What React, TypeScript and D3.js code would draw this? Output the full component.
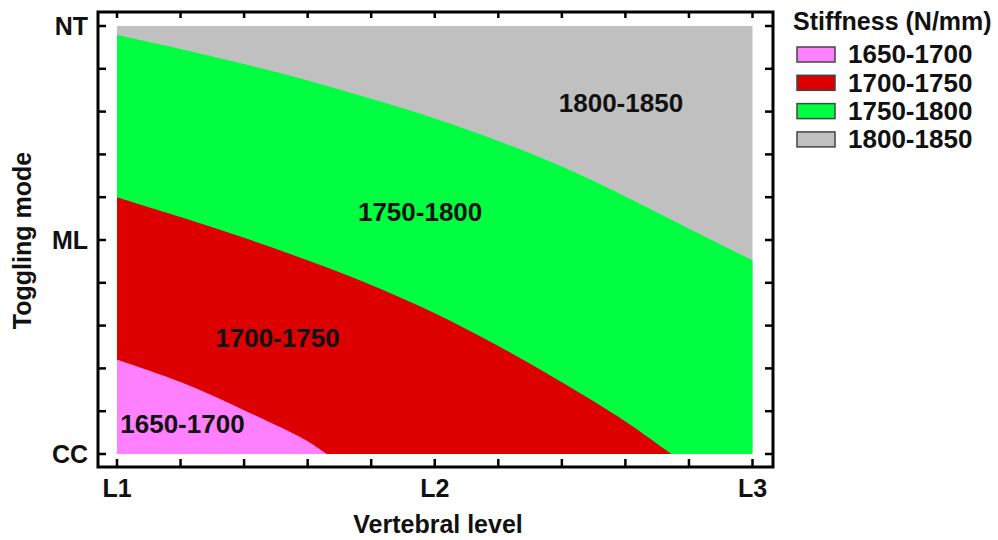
import React from "react";
import * as d3 from "d3";

// ---- data ----
const xCategories = ["L1", "L2", "L3"]; // vertebral level, positions 0,1,2
const yCategories = ["CC", "ML", "NT"]; // toggling mode, positions 0,1,2

// contour boundaries (x: level position, y: mode position)
const boundaryGrayGreen = [
  [0, 1.958], [0.2, 1.893], [0.4, 1.822], [0.6, 1.745], [0.8, 1.66], [1.0, 1.568],
  [1.2, 1.463], [1.4, 1.343], [1.6, 1.203], [1.8, 1.053], [2.0, 0.905],
];
const boundaryGreenRed = [
  [0, 1.2], [0.2, 1.107], [0.4, 1.01], [0.6, 0.905], [0.8, 0.79], [1.0, 0.658],
  [1.2, 0.505], [1.4, 0.335], [1.6, 0.152], [1.745, 0],
];
const boundaryRedPink = [
  [0, 0.44], [0.2, 0.336], [0.4, 0.205], [0.6, 0.06], [0.66, 0],
];

const legendLabels = ["1650-1700", "1700-1750", "1750-1800", "1800-1850"];
const legendColors = ["#ff80ff", "#dc0000", "#00ff40", "#c0c0c0"];

const regionLabels = [
  { label: "1650-1700", x: 0.206, y: 0.14 },
  { label: "1700-1750", x: 0.505, y: 0.542 },
  { label: "1750-1800", x: 0.954, y: 1.131 },
  { label: "1800-1850", x: 1.586, y: 1.643 },
];

const tickValues = d3.range(0, 2.0001, 0.2);

// ---- layout ----
const W = 998, H = 540;
const frame = { left: 98, right: 773, top: 12, bottom: 467 };
const FONT = "'Liberation Sans', Arial, sans-serif";

export default function App() {
  const x = d3.scaleLinear().domain([0, 2]).range([117, 752.5]);
  const y = d3.scaleLinear().domain([0, 2]).range([454, 26]);

  const area = d3
    .area<number[]>()
    .x((d) => x(d[0]))
    .y0(y(0))
    .y1((d) => y(d[1]))
    .curve(d3.curveCatmullRom.alpha(0.5));

  const tickLen = 8;

  return (
    <svg width={W} height={H} style={{ position: "absolute", left: 0, top: 0, background: "#fff" }}>
      {/* regions */}
      <rect x={x(0)} y={y(2)} width={x(2) - x(0)} height={y(0) - y(2)} fill={legendColors[3]} />
      <path d={area(boundaryGrayGreen) || ""} fill={legendColors[2]} />
      <path d={area(boundaryGreenRed) || ""} fill={legendColors[1]} />
      <path d={area(boundaryRedPink) || ""} fill={legendColors[0]} />

      {/* region labels */}
      {regionLabels.map((r) => (
        <text
          key={r.label}
          x={x(r.x)}
          y={y(r.y)}
          dy="0.36em"
          textAnchor="middle"
          fontFamily={FONT}
          fontWeight="bold"
          fontSize={26}
          fill="#111"
        >
          {r.label}
        </text>
      ))}

      {/* frame */}
      <rect
        x={frame.left}
        y={frame.top}
        width={frame.right - frame.left}
        height={frame.bottom - frame.top}
        fill="none"
        stroke="#000"
        strokeWidth={3}
      />

      {/* ticks */}
      {tickValues.map((t, i) => (
        <g key={"t" + i} stroke="#000" strokeWidth={2.5}>
          <line x1={x(t)} x2={x(t)} y1={frame.bottom} y2={frame.bottom - tickLen} />
          <line x1={x(t)} x2={x(t)} y1={frame.top} y2={frame.top + tickLen - 2} />
          <line x1={frame.left} x2={frame.left + tickLen} y1={y(t)} y2={y(t)} />
          <line x1={frame.right} x2={frame.right - tickLen} y1={y(t)} y2={y(t)} />
        </g>
      ))}

      {/* tick labels */}
      {xCategories.map((c, i) => (
        <text key={c} x={x(i)} y={497} textAnchor="middle" fontFamily={FONT} fontWeight="bold" fontSize={25} fill="#111">
          {c}
        </text>
      ))}
      {yCategories.map((c, i) => (
        <text key={c} x={88} y={y(i)} dy="0.36em" textAnchor="end" fontFamily={FONT} fontWeight="bold" fontSize={25} fill="#111">
          {c}
        </text>
      ))}

      {/* axis titles */}
      <text x={438} y={533} textAnchor="middle" fontFamily={FONT} fontWeight="bold" fontSize={25} fill="#111">
        Vertebral level
      </text>
      <text
        transform={`translate(31, ${(frame.top + frame.bottom) / 2 + 1}) rotate(-90)`}
        textAnchor="middle"
        fontFamily={FONT}
        fontWeight="bold"
        fontSize={25}
        fill="#111"
      >
        Toggling mode
      </text>

      {/* legend */}
      <text x={793} y={30} fontFamily={FONT} fontWeight="bold" fontSize={25} fill="#111">
        Stiffness (N/mm)
      </text>
      {legendLabels.map((l, i) => (
        <g key={l} transform={`translate(0, ${i * 28.3})`}>
          <rect x={797} y={47} width={38} height={15} fill={legendColors[i]} stroke="#444" strokeWidth={1.5} />
          <text x={848} y={63.3} fontFamily={FONT} fontWeight="bold" fontSize={26} fill="#111">
            {l}
          </text>
        </g>
      ))}
    </svg>
  );
}
